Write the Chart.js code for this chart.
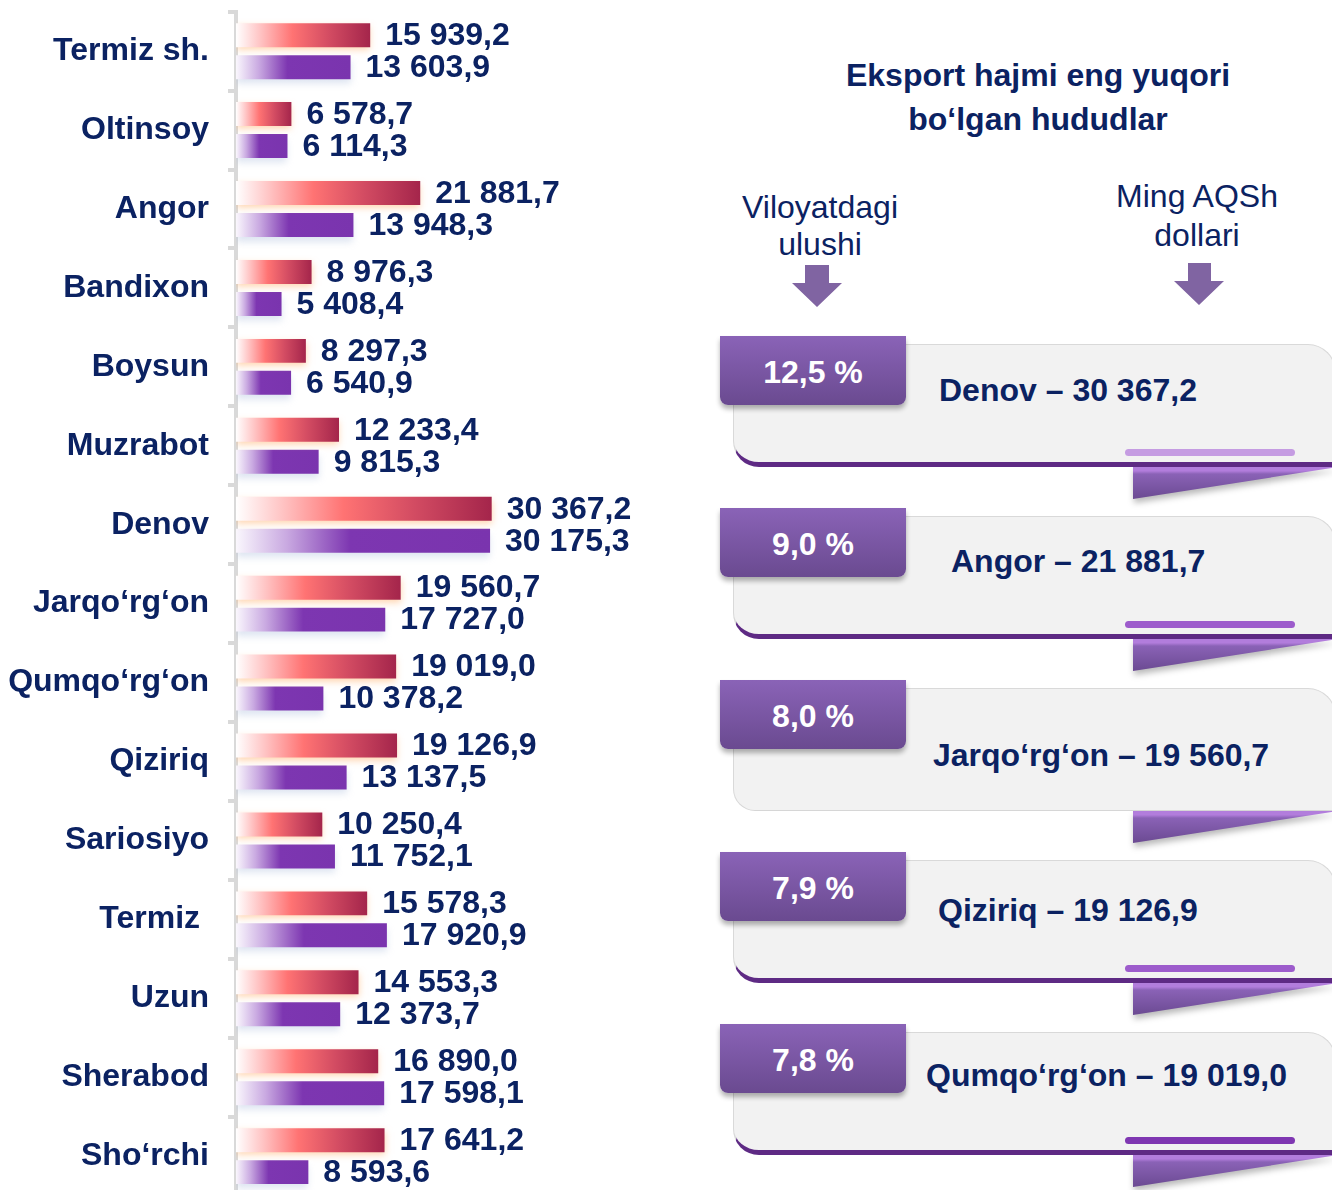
<!DOCTYPE html>
<html>
<head>
<meta charset="utf-8">
<script src="https://cdn.jsdelivr.net/npm/chart.js@4.4.1/dist/chart.umd.min.js"></script>
<style>
  html, body { margin: 0; padding: 0; background: #fff; }
  body { width: 1332px; height: 1190px; overflow: hidden; position: relative;
         font-family: "Liberation Sans", Arial, sans-serif; color: #0b2262; }
  #left { position: absolute; left: 0; top: 0; width: 700px; height: 1200px; }
  .title { position: absolute; left: 818px; top: 53px; width: 440px; text-align: center;
           font-weight: bold; font-size: 32px; line-height: 44px; }
  .sub { position: absolute; text-align: center; font-size: 32px; }
  .card { position: absolute; left: 720px; width: 612px; height: 172px; }
  .card .body { position: absolute; left: 13px; top: 8px; width: 601px; height: 117px;
                background: #f2f2f2; border: 1.5px solid #d9d9d9; border-bottom: 5px solid #5e2a84;
                border-radius: 0 28px 0 26px; box-sizing: content-box; }
  .card.plain .body { border-bottom: 1.5px solid #d6d6d6; height: 121px; border-radius: 0 28px 0 22px; }
  .card .hl { position: absolute; left: 405px; top: 113px; width: 170px; height: 7px; border-radius: 4px;
              background: #9d5ccc; }
  .card:nth-of-type(1) .hl { background: #c59ce2; }
  .card:nth-of-type(5) .hl { background: #7f37b2; }
  .card.plain .hl { display: none; }
  .card .foldwrap { position: absolute; left: 413px; top: 131px; width: 205px; height: 32px;
                    filter: drop-shadow(1px 4px 3px rgba(0,0,0,0.28)); }
  .card .fold { width: 100%; height: 100%; clip-path: polygon(0 0, 100% 0, 0 100%);
                background: linear-gradient(#b27ddc 0, #b27ddc 12%, #8a62b6 22%, #6b4a92 100%); }
  .card .tab { position: absolute; left: 0; top: 0; width: 186px; height: 69px;
               background: linear-gradient(#8a63b7, #6a4a90); border-radius: 0 0 8px 8px;
               box-shadow: 0 4px 5px rgba(0,0,0,0.3); color: #fff; font-weight: bold; font-size: 32px;
               text-align: center; line-height: 72px; }
  .card .txt { position: absolute; font-weight: bold; font-size: 32px; line-height: 36px; white-space: nowrap; }
  .card:nth-of-type(1) .txt { left: 219px; top: 36px; }
  .card:nth-of-type(2) .txt { left: 231px; top: 35px; }
  .card:nth-of-type(3) .txt { left: 213px; top: 57px; }
  .card:nth-of-type(4) .txt { left: 218px; top: 40px; }
  .card:nth-of-type(5) .txt { left: 206px; top: 33px; }
</style>
</head>
<body>
<div id="left"><canvas id="barChart" width="700" height="1200"></canvas></div>

<div class="title">Eksport hajmi eng yuqori<br>bo‘lgan hududlar</div>
<div class="sub" style="left:720px; top:189px; width:200px; line-height:37px;">Viloyatdagi<br>ulushi</div>
<div class="sub" style="left:1097px; top:177px; width:200px; line-height:39px;">Ming AQSh<br>dollari</div>
<svg style="position:absolute; left:0; top:0;" width="1332" height="320">
  <polygon points="805,265 829,265 829,283 842,283 817,307 792,283 805,283" fill="#8064a2"/>
  <polygon points="1188,263 1211,263 1211,281 1224,281 1199,305 1174,281 1188,281" fill="#8064a2"/>
</svg>
<div id="cards"></div>

<script>
// Hududlar va qiymatlar (ming AQSh dollari)
const categories = ['Termiz sh.', 'Oltinsoy', 'Angor', 'Bandixon', 'Boysun', 'Muzrabot', 'Denov',
  'Jarqo‘rg‘on', 'Qumqo‘rg‘on', 'Qiziriq', 'Sariosiyo', 'Termiz ', 'Uzun', 'Sherabod', 'Sho‘rchi'];
const currentPeriod = [15939.2, 6578.7, 21881.7, 8976.3, 8297.3, 12233.4, 30367.2,
  19560.7, 19019.0, 19126.9, 10250.4, 15578.3, 14553.3, 16890.0, 17641.2];
const previousPeriod = [13603.9, 6114.3, 13948.3, 5408.4, 6540.9, 9815.3, 30175.3,
  17727.0, 10378.2, 13137.5, 11752.1, 17920.9, 12373.7, 17598.1, 8593.6];
// Viloyatdagi ulushi, % (top 5)
const topShares = [12.5, 9.0, 8.0, 7.9, 7.8];

const navy = '#0b2262';
const fontFamily = '"Liberation Sans", Arial, sans-serif';

function fmt(v) {
  const [i, d] = v.toFixed(1).split('.');
  return i.replace(/\B(?=(\d{3})+(?!\d))/g, ' ') + ',' + d;
}

// O'ng panel: eksport hajmi eng yuqori 5 hudud
const topIdx = currentPeriod.map((v, i) => i).sort((a, b) => currentPeriod[b] - currentPeriod[a]).slice(0, 5);
const cardTops = [336, 508, 680, 852, 1024];
const cardsEl = document.getElementById('cards');
topIdx.forEach((idx, k) => {
  const card = document.createElement('div');
  card.className = 'card' + (k === 2 ? ' plain' : '');
  card.style.top = cardTops[k] + 'px';
  card.innerHTML =
    '<div class="foldwrap"><div class="fold"></div></div>' +
    '<div class="body"></div><div class="hl"></div>' +
    `<div class="tab">${topShares[k].toFixed(1).replace('.', ',')} %</div>` +
    `<div class="txt">${categories[idx].trim()} – ${fmt(currentPeriod[idx])}</div>`;
  cardsEl.appendChild(card);
});

function barGradient(stops, fallback) {
  return (c) => {
    const chart = c.chart;
    const xs = chart.scales && chart.scales.x;
    if (!xs || !chart.chartArea || c.type !== 'data') return fallback;
    const v = c.dataset.data[c.dataIndex];
    const x0 = xs.getPixelForValue(0);
    const x1 = xs.getPixelForValue(v);
    if (!isFinite(x0) || !isFinite(x1) || x1 <= x0) return fallback;
    const g = chart.ctx.createLinearGradient(x0, 0, x1, 0);
    stops.forEach(s => g.addColorStop(s[0], s[1]));
    return g;
  };
}

const redStops = [[0, '#ffffff'], [0.18, '#ffc4c4'], [0.42, '#ff7373'], [0.7, '#d24b62'], [1, '#a4254b']];
const purpleStops = [[0, '#faf7fd'], [0.2, '#c9a9e1'], [0.45, '#7d36b1'], [1, '#7a34ae']];

// soya (shadow) under each dataset
const shadowPlugin = {
  id: 'barShadow',
  beforeDatasetDraw(chart, args) {
    const ctx = chart.ctx;
    ctx.save();
    if (args.index === 0) {
      ctx.shadowColor = 'rgba(255,170,95,0.5)';
      ctx.shadowBlur = 7;
      ctx.shadowOffsetY = 3;
    } else {
      ctx.shadowColor = 'rgba(160,180,215,0.35)';
      ctx.shadowBlur = 7;
      ctx.shadowOffsetY = 5;
    }
  },
  afterDatasetDraw(chart) {
    chart.ctx.restore();
  }
};

// qiymat yorliqlari
const valueLabels = {
  id: 'valueLabels',
  afterDatasetsDraw(chart) {
    const ctx = chart.ctx;
    ctx.save();
    ctx.font = `bold 32px ${fontFamily}`;
    ctx.fillStyle = navy;
    ctx.textBaseline = 'middle';
    ctx.textAlign = 'left';
    chart.data.datasets.forEach((ds, di) => {
      chart.getDatasetMeta(di).data.forEach((bar, i) => {
        ctx.fillText(fmt(ds.data[i]), bar.x + 15, bar.y + 1);
      });
    });
    ctx.restore();
  }
};

const chart = new Chart(document.getElementById('barChart'), {
  type: 'bar',
  data: {
    labels: categories,
    datasets: [
      {
        data: currentPeriod,
        backgroundColor: barGradient(redStops, '#e05a6a'),
        categoryPercentage: 0.81,
        barPercentage: 0.75
      },
      {
        data: previousPeriod,
        backgroundColor: barGradient(purpleStops, '#7d36b1'),
        categoryPercentage: 0.81,
        barPercentage: 0.75
      }
    ]
  },
  options: {
    indexAxis: 'y',
    responsive: false,
    animation: false,
    layout: { padding: { top: 11.7, bottom: 4.4, left: 0, right: 43 } },
    plugins: { legend: { display: false }, tooltip: { enabled: false } },
    scales: {
      x: { display: false, min: 0, max: 50000 },
      y: {
        afterFit: (s) => { s.width = 236; s.paddingTop = 0; s.paddingBottom = 0; },
        border: { display: true, color: '#d9d9d9', width: 4 },
        grid: { drawOnChartArea: false, drawTicks: true, tickLength: 8, color: '#d9d9d9', lineWidth: 4, offset: true },
        ticks: {
          autoSkip: false,
          padding: 19,
          color: navy,
          font: { family: fontFamily, size: 32, weight: 'bold' }
        }
      }
    }
  },
  plugins: [shadowPlugin, valueLabels]
});
// second pass so the gradients get the final scale pixels
chart.update();
</script>
</body>
</html>
